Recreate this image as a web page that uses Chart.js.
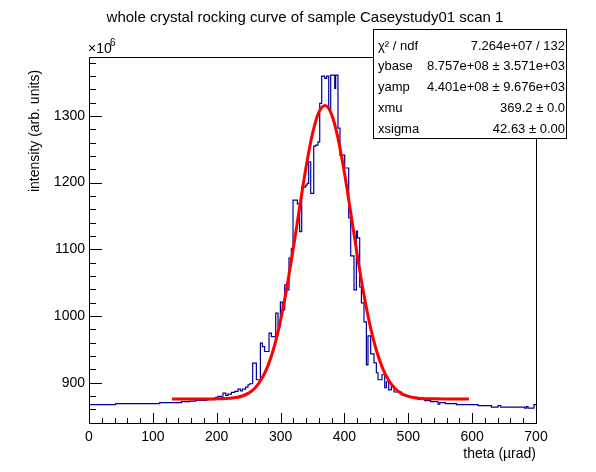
<!DOCTYPE html>
<html>
<head>
<meta charset="utf-8">
<script src="https://cdn.jsdelivr.net/npm/chart.js@4.4.1/dist/chart.umd.min.js"></script>
<style>
  html, body { margin: 0; padding: 0; background: #fff; }
</style>
</head>
<body>
<canvas id="myChart" width="596" height="472"></canvas>
<script>
// histogram: left edge of each bin (theta, urad) and its content (x10^6)
var binLeft = [0, 41.8, 110.7, 144.7, 157.7, 167.1, 184.3, 198.4, 202.0, 207.3,
  209.8, 214.1, 217.7, 223.0, 228.2, 233.3, 237.1, 240.2, 245.4, 249.0,
  251.6, 256.3, 262.1, 268.4, 271.5, 275.1, 281.9, 285.6, 292.4, 296.0,
  299.7, 302.8, 306.5, 310.1, 313.2, 316.9, 319.5, 326.3, 329.9, 333.1,
  339.3, 341.7, 344.0, 347.2, 351.9, 355.0, 358.6, 361.3, 364.4, 369.1,
  372.2, 375.4, 378.5, 384.8, 386.3, 389.9, 393.0, 400.4, 406.7, 409.8,
  415.0, 418.7, 420.3, 423.9, 426.6, 430.6, 434.4, 436.9, 441.1, 446.3,
  450.0, 452.6, 458.8, 463.1, 465.7, 469.3, 473.5, 477.6, 489.2, 497.0,
  503.8, 514.7, 525.7, 535.1, 546.5, 549.2, 558.1, 575.3, 609.1, 630.1,
  640.5, 644.7, 682.3, 684.9, 687.4, 696.8];
var binCounts = [867.1, 868.6, 870.1, 871.6, 872.6, 873.5, 874.6, 878.0, 879.5, 877.1,
  884.6, 881.0, 883.1, 885.5, 887.0, 890.6, 888.0, 890.6, 893.6, 897.0,
  898.5, 929.5, 904.5, 959.4, 954.3, 946.9, 974.4, 969.3, 1004.3, 984.3,
  1020.8, 1009.3, 1046.7, 1039.2, 1086.7, 1101.6, 1173.9, 1168.0, 1126.5, 1193.4,
  1196.4, 1198.9, 1231.3, 1184.0, 1254.8, 1256.3, 1261.2, 1318.7, 1359.6, 1356.2,
  1359.6, 1309.8, 1361.1, 1341.2, 1361.1, 1281.8, 1241.3, 1221.9, 1147.0, 1090.1,
  1039.2, 1127.5, 1117.1, 1043.7, 1019.8, 991.3, 926.9, 970.4, 943.4, 929.9,
  915.0, 904.5, 912.0, 892.5, 901.5, 889.5, 895.5, 886.2, 882.0, 879.8,
  878.0, 875.3, 873.1, 871.6, 868.1, 870.1, 868.6, 867.1, 865.6, 863.6,
  865.6, 863.6, 862.1, 864.1, 862.1, 867.1];
var histEnd = 700;

// fitted curve
var fitTheta = [130, 150, 170, 190, 200, 210, 220, 230, 240, 250, 260, 270, 280, 290,
  300, 310, 320, 330, 340, 350, 360, 370, 380, 390, 400, 410, 420, 430, 440,
  450, 460, 470, 480, 490, 500, 510, 520, 530, 540, 560, 580, 595];
var fitValue = [875.7, 875.7, 875.7, 875.8, 875.9, 876.1, 876.7, 877.8, 880.2, 884.5,
  892.2, 905.1, 925.0, 954.0, 993.6, 1043.5, 1101.8, 1164.1, 1223.8, 1273.4, 1305.7,
  1315.7, 1301.9, 1266.4, 1214.7, 1154.1, 1092.1, 1034.8, 986.5, 948.7, 921.2,
  902.6, 890.7, 883.6, 879.7, 877.6, 876.5, 876.1, 875.9, 875.7, 875.7, 875.7];

var xTicks = [0, 100, 200, 300, 400, 500, 600, 700];
var yTicks = [900, 1000, 1100, 1200, 1300];
var xRange = [0, 700];
var yRange = [839.7, 1388.3];

var statNames = ['\u03C7\u00B2 / ndf', 'ybase', 'yamp', 'xmu', 'xsigma'];
var statValues = ['7.264e+07 / 132', '8.757e+08 \u00B1 3.571e+03', '4.401e+08 \u00B1 9.676e+03',
  '369.2 \u00B1 0.0', '42.63 \u00B1 0.00'];

var FONT = '"Liberation Sans", Arial, sans-serif';

// each bin becomes two points so the outline is drawn as steps
var histPoints = [];
for (var i = 0; i < binLeft.length; i++) {
  var right = i + 1 < binLeft.length ? binLeft[i + 1] : histEnd;
  histPoints.push({x: binLeft[i], y: binCounts[i]});
  histPoints.push({x: right, y: binCounts[i]});
}
var fitPoints = fitTheta.map(function (t, i) { return {x: t, y: fitValue[i]}; });

function drawTicks(ctx, scale, from, to, step, isX, majorLen, minorLen, area) {
  for (var v = from; v <= to + 1e-6; v += step) {
    var major = Math.abs(v / 100 - Math.round(v / 100)) < 1e-6;
    var len = major ? majorLen : minorLen;
    var p = Math.round(scale.getPixelForValue(v)) + 0.5;
    ctx.beginPath();
    if (isX) {
      ctx.moveTo(p, area.bottom);
      ctx.lineTo(p, area.bottom - len);
    } else {
      ctx.moveTo(area.left, p);
      ctx.lineTo(area.left + len, p);
    }
    ctx.stroke();
  }
}

var rootLook = {
  id: 'rootLook',
  afterDatasetsDraw: function (chart) {
    var ctx = chart.ctx, a = chart.chartArea;
    ctx.save();
    ctx.strokeStyle = '#000';
    ctx.lineWidth = 1;
    ctx.strokeRect(Math.round(a.left) + 0.5, Math.round(a.top) + 0.5,
      Math.round(a.right - a.left), Math.round(a.bottom - a.top));
    drawTicks(ctx, chart.scales.x, 0, 700, 20, true, 10, 5, a);
    drawTicks(ctx, chart.scales.y, 860, 1380, 20, false, 13, 7, a);
    ctx.restore();
  },
  afterDraw: function (chart) {
    var ctx = chart.ctx, a = chart.chartArea;
    ctx.save();
    ctx.fillStyle = '#000';

    // title
    ctx.font = '15px ' + FONT;
    ctx.textAlign = 'center';
    ctx.textBaseline = 'middle';
    ctx.fillText('whole crystal rocking curve of sample Caseystudy01 scan 1', 305, 18);

    // axis titles
    ctx.font = '14px ' + FONT;
    ctx.textAlign = 'right';
    ctx.textBaseline = 'alphabetic';
    ctx.fillText('theta (\u00B5rad)', a.right, 458);

    ctx.save();
    ctx.translate(39, 131);
    ctx.rotate(-Math.PI / 2);
    ctx.textAlign = 'center';
    ctx.fillText('intensity (arb. units)', 0, 0);
    ctx.restore();

    // exponent label
    ctx.textAlign = 'left';
    ctx.font = '14px ' + FONT;
    ctx.fillText('\u00D710', a.left - 1, 53);
    ctx.font = '10px ' + FONT;
    ctx.fillText('6', a.left + 21, 46);

    // fit statistics box
    var bx = 373.5, by = 29.5, bw = 193, bh = 109;
    ctx.fillStyle = '#fff';
    ctx.fillRect(bx, by, bw, bh);
    ctx.strokeStyle = '#000';
    ctx.lineWidth = 1;
    ctx.strokeRect(bx, by, bw, bh);
    ctx.fillStyle = '#000';
    ctx.font = '13px ' + FONT;
    ctx.textBaseline = 'middle';
    for (var i = 0; i < statNames.length; i++) {
      var ry = 46 + i * 20.8;
      ctx.textAlign = 'left';
      ctx.fillText(statNames[i], 378, ry);
      ctx.textAlign = 'right';
      ctx.fillText(statValues[i], 565, ry);
    }
    ctx.restore();
  }
};

var ctx = document.getElementById('myChart').getContext('2d');

var chartData = {
  type: 'line',
  data: {
    datasets: [
      {
        label: 'fit',
        data: fitPoints,
        borderColor: '#ff0000',
        borderWidth: 3,
        pointRadius: 0,
        fill: false,
        cubicInterpolationMode: 'monotone',
      },
      {
        label: 'histogram',
        data: histPoints,
        borderColor: '#000099',
        borderWidth: 1.2,
        pointRadius: 0,
        fill: false,
        tension: 0,
      },
    ],
  },
  options: {
    responsive: false,
    animation: false,
    devicePixelRatio: 1,
    layout: { padding: { left: 0, top: 57, right: 60, bottom: 0 } },
    plugins: { legend: { display: false }, tooltip: { enabled: false }, title: { display: false } },
    scales: {
      x: {
        type: 'linear',
        min: xRange[0],
        max: xRange[1],
        afterBuildTicks: function (s) { s.ticks = xTicks.map(function (v) { return {value: v}; }); },
        afterFit: function (s) { s.height = 49; },
        grid: { display: false, drawTicks: false },
        border: { display: false },
        ticks: {
          color: '#000', font: { family: FONT, size: 14 }, padding: 6, maxRotation: 0,
          callback: function (v) { return String(v); },
        },
      },
      y: {
        type: 'linear',
        min: yRange[0],
        max: yRange[1],
        afterBuildTicks: function (s) { s.ticks = yTicks.map(function (v) { return {value: v}; }); },
        afterFit: function (s) { s.width = 89; },
        grid: { display: false, drawTicks: false },
        border: { display: false },
        ticks: {
          color: '#000', font: { family: FONT, size: 14 }, padding: 4,
          callback: function (v) { return String(v); },
        },
      },
    },
  },
  plugins: [rootLook],
};

var myChart = new Chart(ctx, chartData);
</script>
</body>
</html>
